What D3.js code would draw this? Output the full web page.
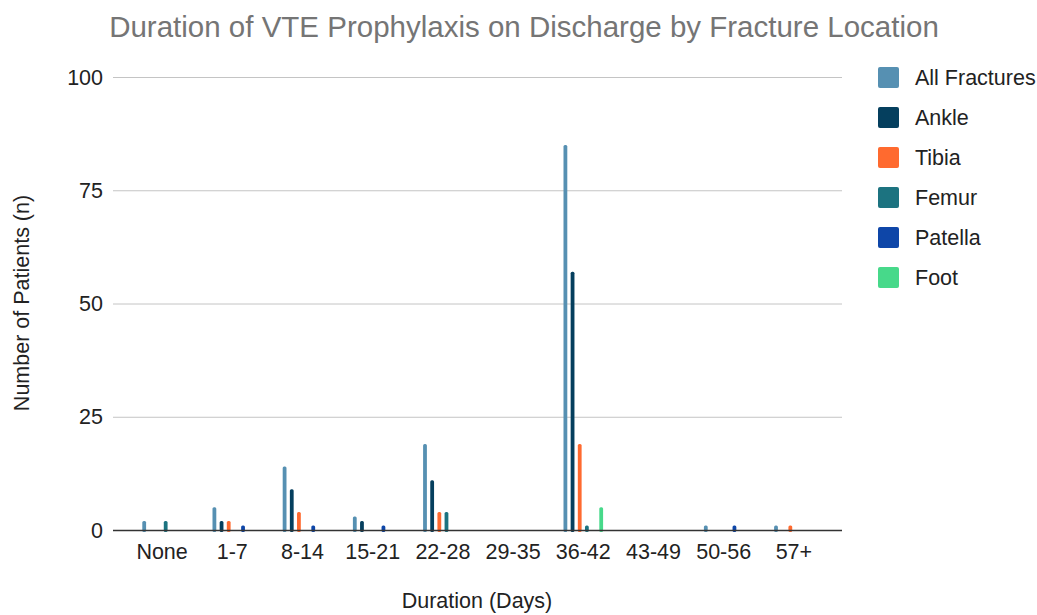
<!DOCTYPE html>
<meta charset="utf-8">
<script src="https://d3js.org/d3.v7.min.js"></script>
<style>
  body { margin: 0; background: #fff; }
  text { font-family: "Liberation Sans", Arial, sans-serif; }
</style>
<div id="chart"></div>
<script>

// categories and series
var categories = ["None", "1-7", "8-14", "15-21", "22-28", "29-35", "36-42", "43-49", "50-56", "57+"];
var seriesNames = ["All Fractures", "Ankle", "Tibia", "Femur", "Patella", "Foot"];
var seriesColors = ["#5690b2", "#053f5e", "#ff6a2f", "#1c7380", "#0e46a8", "#47d98a"];

// values per series, one per category
var allFractures = [2, 5, 14, 3, 19, 0, 85, 0, 1, 1];
var ankle        = [0, 2, 9, 2, 11, 0, 57, 0, 0, 0];
var tibia        = [0, 2, 4, 0, 4, 0, 19, 0, 0, 1];
var femur        = [2, 0, 0, 0, 4, 0, 1, 0, 0, 0];
var patella      = [0, 1, 1, 1, 0, 0, 0, 0, 1, 0];
var foot         = [0, 0, 0, 0, 0, 0, 5, 0, 0, 0];
var yTicks = [0, 25, 50, 75, 100];

var seriesValues = [allFractures, ankle, tibia, femur, patella, foot];

var W = 1037, H = 615;
var svg = d3.select("#chart").append("svg")
  .attr("width", W).attr("height", H);

var plotLeft = 113, plotRight = 842, plotTop = 77, plotBottom = 530;

var x0 = d3.scaleBand().domain(categories).range([127, 829]).padding(0);
var bw = x0.bandwidth();
var x1 = d3.scaleBand().domain(seriesNames).range([bw * 0.194, bw * 0.806]);
var y = d3.scaleLinear().domain([0, 100]).range([plotBottom, plotTop]);

// title
svg.append("text")
  .attr("x", 524).attr("y", 37)
  .attr("text-anchor", "middle")
  .attr("font-size", 29.5)
  .attr("fill", "#757575")
  .text("Duration of VTE Prophylaxis on Discharge by Fracture Location");

// gridlines + y labels
var yAxis = svg.append("g");
yAxis.selectAll("line").data(yTicks.filter(function(d) { return d > 0; }))
  .enter().append("line")
  .attr("x1", plotLeft).attr("x2", plotRight)
  .attr("y1", function(d) { return y(d) + 0.5; })
  .attr("y2", function(d) { return y(d) + 0.5; })
  .attr("stroke", "#c4c4c4").attr("stroke-width", 1);
yAxis.selectAll("text").data(yTicks)
  .enter().append("text")
  .attr("x", 103)
  .attr("y", function(d) { return y(d) + 7.5; })
  .attr("text-anchor", "end")
  .attr("font-size", 21.5)
  .attr("fill", "#222")
  .text(function(d) { return d; });

// bars
var groups = svg.append("g").selectAll("g")
  .data(categories)
  .enter().append("g")
  .attr("transform", function(d) { return "translate(" + x0(d) + ",0)"; });

groups.selectAll("rect")
  .data(function(c, i) {
    return seriesNames.map(function(s, j) { return {s: s, v: seriesValues[j][i], c: seriesColors[j]}; })
      .filter(function(d) { return d.v > 0; });
  })
  .enter().append("rect")
  .attr("x", function(d) { return x1(d.s) + x1.bandwidth() / 2 - 1.9; })
  .attr("width", 3.8)
  .attr("y", function(d) { return y(d.v); })
  .attr("height", function(d) { return plotBottom - y(d.v) + 2; })
  .attr("rx", 1.5)
  .attr("fill", function(d) { return d.c; });

// baseline
svg.append("line")
  .attr("x1", plotLeft).attr("x2", plotRight)
  .attr("y1", plotBottom + 0.5).attr("y2", plotBottom + 0.5)
  .attr("stroke", "#333").attr("stroke-width", 1.5);

// x labels
svg.append("g").selectAll("text").data(categories)
  .enter().append("text")
  .attr("x", function(d) { return x0(d) + bw / 2; })
  .attr("y", 559)
  .attr("text-anchor", "middle")
  .attr("font-size", 21.5)
  .attr("fill", "#222")
  .text(function(d) { return d; });

// axis titles
svg.append("text")
  .attr("x", 477).attr("y", 608)
  .attr("text-anchor", "middle")
  .attr("font-size", 21.5)
  .attr("fill", "#222")
  .text("Duration (Days)");

svg.append("text")
  .attr("transform", "translate(29,303) rotate(-90)")
  .attr("text-anchor", "middle")
  .attr("font-size", 21.5)
  .attr("fill", "#222")
  .text("Number of Patients (n)");

// legend
var legend = svg.append("g").selectAll("g")
  .data(seriesNames)
  .enter().append("g")
  .attr("transform", function(d, i) { return "translate(878," + (67 + i * 40) + ")"; });
legend.append("rect")
  .attr("width", 21).attr("height", 21).attr("rx", 2)
  .attr("fill", function(d, i) { return seriesColors[i]; });
legend.append("text")
  .attr("x", 37).attr("y", 18)
  .attr("font-size", 21.5)
  .attr("fill", "#222")
  .text(function(d) { return d; });

</script>
